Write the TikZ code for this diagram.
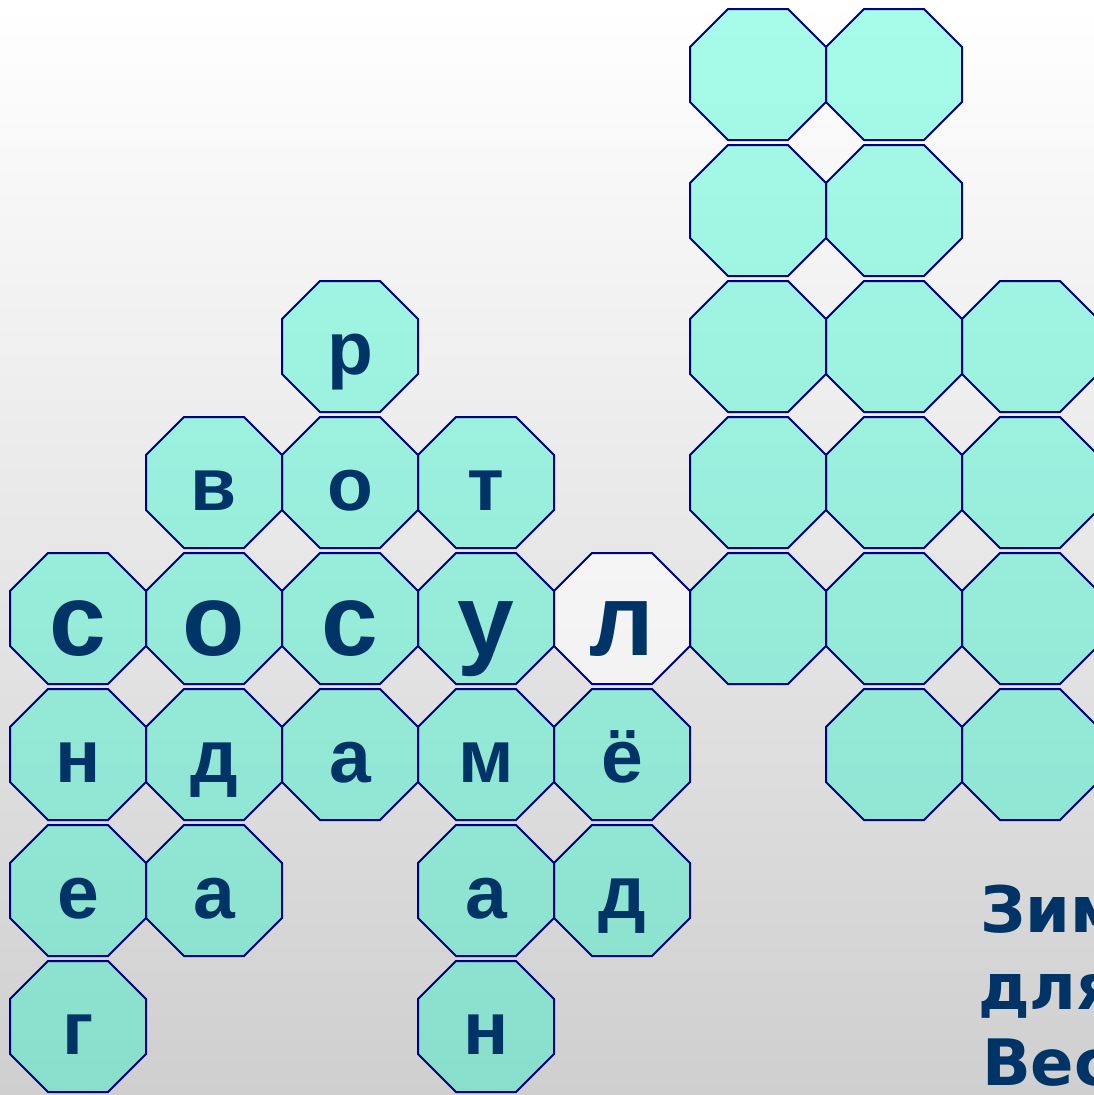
\documentclass[tikz,border=0pt]{standalone}
\usepackage{fontspec}
\setmainfont{Liberation Sans}
\newfontfamily\rhymefont{DejaVu Sans}
\usepackage{tikz}
\definecolor{CrossNavy}{HTML}{000080}
\definecolor{CrossInk}{HTML}{003366}
\definecolor{CrossCyan}{HTML}{1AF7C8}
\definecolor{CrossFog}{HTML}{CFCFCF}

\tikzset{
  octa/.pic={\path[pic actions] (-30,-65.5) -- (30,-65.5) -- (68,-27.5) -- (68,27.5) -- (30,65.5) -- (-30,65.5) -- (-68,27.5) -- (-68,-27.5) -- cycle;},
  cellfill/.style={draw=CrossNavy,line width=2pt,line join=round,fill=CrossCyan,fill opacity=0.38},
  blankfill/.style={cellfill,fill=white,fill opacity=0.6},
  letter/.style={text=CrossInk,font=\bfseries\fontsize{75}{75}\selectfont,anchor=base,inner sep=0pt},
  bigletter/.style={letter,font=\bfseries\fontsize{102}{102}\selectfont},
  rhyme/.style={text=CrossInk,font=\rhymefont\bfseries\fontsize{64}{64}\selectfont,anchor=base west,inner sep=0pt}
}

\begin{document}
\begin{tikzpicture}[x=1pt,y=-1pt]
      \useasboundingbox (0,0) rectangle (1094,1095);
      \clip (0,0) rectangle (1094,1095);
      \shade[top color=white,bottom color=CrossFog] (0,0) rectangle (1094,1095);
      % empty squares of the grid
      \foreach \c/\r in {5/0,6/0,5/1,6/1,5/2,6/2,7/2,5/3,6/3,7/3,5/4,6/4,7/4,6/5,7/5}
        \pic[cellfill] at (78+136*\c,74.5+136*\r) {octa};
      % filled squares
      \foreach \c/\r/\ch/\nm in {2/2/р/r1,1/3/в/v1,2/3/о/o1,3/3/т/t1,0/5/н/n1,1/5/д/d1,2/5/а/a1,3/5/м/m1,4/5/ё/yo1,0/6/е/e1,1/6/а/a2,3/6/а/a3,4/6/д/d2,0/7/г/g1,3/7/н/n2} {
        \pic[cellfill] at (78+136*\c,74.5+136*\r) {octa};
        \node[letter] (\nm) at (78+136*\c,102+136*\r) {\ch};
      }
      % the key word
      \foreach \c/\ch/\nm in {0/с/s1,1/о/o2,2/с/s2,3/у/u1} {
        \pic[cellfill] at (78+136*\c,618.5) {octa};
        \node[bigletter] (\nm) at (78+136*\c,655) {\ch};
      }
      \pic[blankfill] at (622,618.5) {octa};
      \node[bigletter] (l1) at (622,655) {л};
      \node[rhyme] (zima) at (980,932) {Зим};
      \node[rhyme] (dlya) at (978,1009) {для};
      \node[rhyme] (vesna) at (982,1085) {Вес};
    \end{tikzpicture}
\end{document}
